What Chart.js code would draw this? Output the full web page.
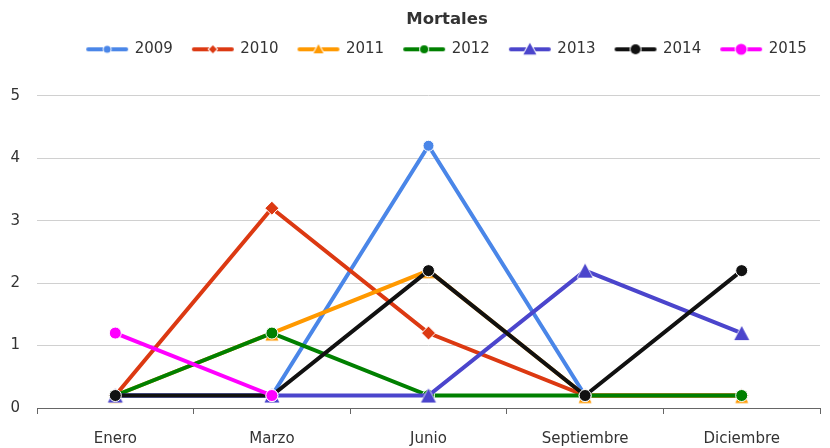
<!DOCTYPE html>
<html>
<head>
<meta charset="utf-8">
<script src="https://cdn.jsdelivr.net/npm/chart.js@4"></script>
<style>
  html, body { margin: 0; padding: 0; background: #fff; }
  #wrap { width: 830px; height: 448px; }
</style>
</head>
<body>
<div id="wrap"><canvas id="chart" width="830" height="448"></canvas></div>
<script>
// ── Data ────────────────────────────────────────────────────────────────────
const MONTHS = ['Enero', 'Marzo', 'Junio', 'Septiembre', 'Diciembre'];
const YEARS  = ['2009', '2010', '2011', '2012', '2013', '2014', '2015'];

const S2009 = [0.2, 0.2, 4.2, 0.2, 0.2];
const S2010 = [0.2, 3.2, 1.2, 0.2, 0.2];
const S2011 = [0.2, 1.2, 2.2, 0.2, 0.2];
const S2012 = [0.2, 1.2, 0.2, 0.2, 0.2];
const S2013 = [0.2, 0.2, 0.2, 2.2, 1.2];
const S2014 = [0.2, 0.2, 2.2, 0.2, 2.2];
const S2015 = [1.2, 0.2, null, null, null];

const Y_TICKS = [0, 1, 2, 3, 4, 5];

// ── Styles ──────────────────────────────────────────────────────────────────
const FONT = '"DejaVu Sans", sans-serif';
const SERIES = [S2009, S2010, S2011, S2012, S2013, S2014, S2015];
const COLORS = ['#4a86e8', '#dc3912', '#ff9900', '#008000', '#4b45cc', '#111111', '#ff00ff'];
const SHAPES = ['circle', 'rectRot', 'triangle', 'circle', 'triangle', 'circle', 'circle'];
const RADII  = [5.5, 7, 7, 6, 8.5, 6, 6];
const LEGEND_R = [3.5, 4, 5, 4, 6.5, 5, 5.5];

// triangle marker drawn into a small canvas (apex / base offsets from the point)
function triangleMarker(color, halfW, up, down) {
  const c = document.createElement('canvas');
  const h = Math.ceil(Math.max(up, down)) * 2 + 4;
  c.width = Math.ceil(halfW) * 2 + 4; c.height = h;
  const g = c.getContext('2d');
  const cx = c.width / 2, cy = h / 2;
  g.fillStyle = color; g.strokeStyle = '#fff'; g.lineWidth = 1.5; g.lineJoin = 'round';
  g.beginPath();
  g.moveTo(cx, cy - up); g.lineTo(cx + halfW, cy + down); g.lineTo(cx - halfW, cy + down); g.closePath();
  g.stroke(); g.fill();
  return c;
}
const MARKERS = SHAPES.slice();
MARKERS[2] = triangleMarker(COLORS[2], 6.5, 6, 7.5);
MARKERS[4] = triangleMarker(COLORS[4], 7.5, 7, 7);

// small canvas: line + marker, used as the legend's point style
function legendIcon(color, shape, r) {
  const c = document.createElement('canvas');
  c.width = 44; c.height = 16;
  const g = c.getContext('2d');
  const cy = 8, cx = 22;
  g.strokeStyle = color; g.lineWidth = 4; g.lineCap = 'round';
  g.beginPath(); g.moveTo(3, cy); g.lineTo(41, cy); g.stroke();
  g.fillStyle = color; g.strokeStyle = '#fff'; g.lineWidth = 2;
  g.beginPath();
  if (shape === 'circle') {
    g.arc(cx, cy, r, 0, Math.PI * 2);
  } else if (shape === 'rectRot') {
    g.moveTo(cx, cy - r); g.lineTo(cx + r, cy); g.lineTo(cx, cy + r); g.lineTo(cx - r, cy); g.closePath();
  } else {
    g.moveTo(cx, cy - r); g.lineTo(cx + r, cy + r * 0.8); g.lineTo(cx - r, cy + r * 0.8); g.closePath();
  }
  g.stroke(); g.fill();
  return c;
}
const ICONS = YEARS.map((y, i) => legendIcon(COLORS[i], SHAPES[i], LEGEND_R[i]));

const datasets = YEARS.map((y, i) => ({
  label: y,
  data: SERIES[i],
  borderColor: COLORS[i],
  backgroundColor: COLORS[i],
  borderWidth: 4,
  pointStyle: MARKERS[i],
  pointRadius: RADII[i],
  pointHoverRadius: RADII[i],
  pointBorderColor: '#fff',
  pointBorderWidth: 1,
  pointBackgroundColor: COLORS[i],
  tension: 0,
  spanGaps: false,
  order: YEARS.length - i, // later years painted on top
}));

// move title and legend: a bit to the right, legend up
const shiftHeader = {
  id: 'shiftHeader',
  afterLayout(chart) {
    const dx = 37;
    [chart.titleBlock, chart.legend].forEach(b => {
      if (!b) return;
      b.left += dx; b.right += dx;
    });
    if (chart.legend) {
      chart.legend.top -= 29; chart.legend.bottom -= 29;
      chart.legend.adjustHitBoxes();
    }
  }
};

new Chart(document.getElementById('chart').getContext('2d'), {
  type: 'line',
  data: { labels: MONTHS, datasets },
  plugins: [shiftHeader],
  options: {
    responsive: false,
    animation: false,
    layout: { padding: { left: 0, right: 10, top: 0, bottom: 0 } },
    plugins: {
      title: {
        display: true,
        text: 'Mortales',
        color: '#333',
        font: { family: FONT, size: 16.5, weight: 'bold' },
        padding: { top: 10, bottom: 21 },
      },
      legend: {
        display: true,
        position: 'top',
        labels: {
          usePointStyle: true,
          pointStyleWidth: 40,
          padding: 20,
          color: '#333',
          font: { family: FONT, size: 15 },
          sort: (a, b) => a.datasetIndex - b.datasetIndex,
          generateLabels(chart) {
            return chart.data.datasets.map((ds, i) => ({
              text: ds.label,
              fillStyle: ds.borderColor,
              strokeStyle: ds.borderColor,
              lineWidth: 0,
              pointStyle: ICONS[i],
              hidden: !chart.isDatasetVisible(i),
              datasetIndex: i,
              fontColor: '#333',
            }));
          },
        },
      },
      tooltip: { enabled: false },
    },
    scales: {
      x: {
        offset: true,
        grid: { drawOnChartArea: false, drawTicks: true, tickLength: 6, color: '#666', offset: true },
        border: { display: true, color: '#666', width: 1 },
        ticks: { color: '#333', font: { family: FONT, size: 15 }, padding: 16, maxRotation: 0 },
        afterFit: s => { s.height = 40; },
      },
      y: {
        min: 0, max: 5,
        afterBuildTicks: s => { s.ticks = Y_TICKS.map(v => ({ value: v })); },
        grid: { color: '#d0d0d0', drawTicks: false, lineWidth: 1 },
        border: { display: false },
        ticks: { color: '#333', font: { family: FONT, size: 15 }, padding: 17 },
        afterFit: s => { s.width = 37; },
      },
    },
  },
});
</script>
</body>
</html>
